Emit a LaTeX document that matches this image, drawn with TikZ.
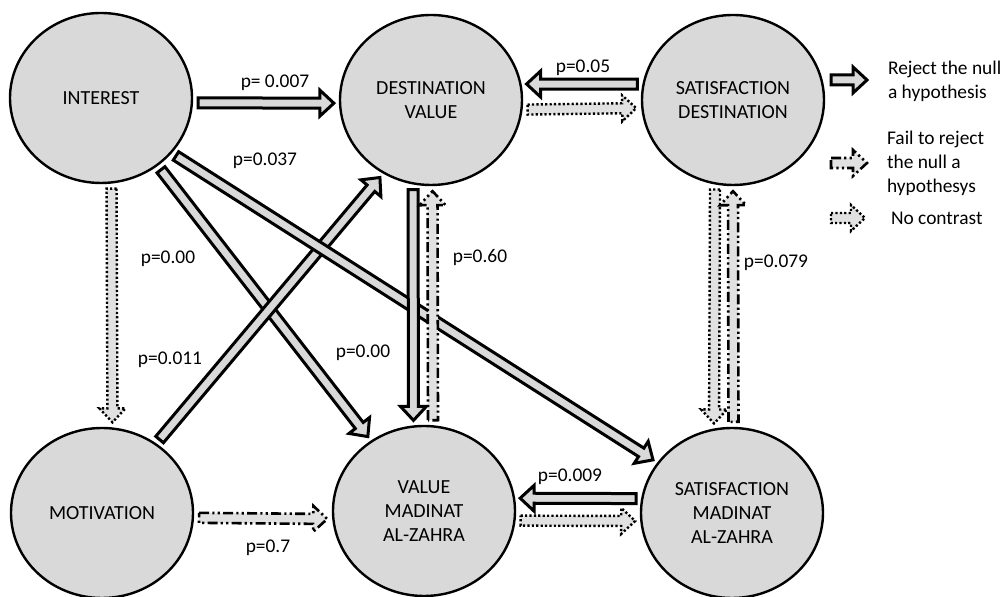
\documentclass[tikz,border=0pt]{standalone}
\usepackage{fontspec}
\setmainfont{Carlito}
\usepackage{xcolor}
\usetikzlibrary{shapes.geometric, calc}

\definecolor{boxgray}{HTML}{D9D9D9}

\tikzset{
	var/.style={ellipse, draw, line width=1.2pt, fill=boxgray, minimum width=91pt, minimum height=85pt, inner sep=0pt, align=center, font=\fontsize{10}{12}\selectfont},
	plab/.style={font=\fontsize{9.7}{12}\selectfont},
	reject/.style={draw, line width=1.5pt, fill=boxgray, line join=miter},
	fail/.style={draw, line width=1.3pt, fill=boxgray!80, dash pattern=on 5pt off 1.6pt on 1.1pt off 1.6pt on 1.1pt off 1.6pt},
	nocontrast/.style={draw, line width=1.2pt, fill=boxgray!80, dash pattern=on 1.1pt off 1.1pt}
}

% block arrow from #2 to #3
\newcommand{\blockarr}[3][reject]{%
	\coordinate (ba-s) at ($(#2)!2.5pt!(#3)$);
	\coordinate (ba-e) at ($(#3)!2.5pt!(#2)$);
	\coordinate (ba-t) at ($(ba-e)!7pt!(ba-s)$);
	\draw[#1] ($(ba-s)!2.5pt!90:(ba-e)$) -- ($(ba-t)!2.5pt!-90:(ba-s)$) -- ($(ba-t)!6.5pt!-90:(ba-s)$) -- (ba-e) -- ($(ba-t)!6.5pt!90:(ba-s)$) -- ($(ba-t)!2.5pt!90:(ba-s)$) -- ($(ba-s)!2.5pt!-90:(ba-e)$) -- cycle;
}

\begin{document}
\begin{tikzpicture}[x=0.5pt, y=-0.5pt]
	
	\useasboundingbox (0,0) rectangle (1003,597);
	
	\node [var] (int) at (101,98) {INTEREST};
	\node [var] (dv) at (431,100) {DESTINATION\\VALUE};
	\node [var] (sd) at (733,100) {SATISFACTION\\DESTINATION};
	\node [var] (mot) at (102,513) {MOTIVATION};
	\node [var] (vm) at (424,511) {VALUE\\MADINAT\\AL-ZAHRA};
	\node [var] (sm) at (732,513) {SATISFACTION\\MADINAT\\AL-ZAHRA};
	
	% diagonals
	\blockarr{int.-50}{vm.127}
	\blockarr{mot.52}{dv.-123}
	\blockarr{int.-38}{sm.146}
	
	% top and bottom rows
	\blockarr{int.-3}{dv.-178}
	\blockarr{sd.170}{dv.10}
	\blockarr[nocontrast]{dv.-6}{sd.185}
	\blockarr[fail]{mot.-3}{vm.185}
	\blockarr{sm.171}{vm.8}
	\blockarr[nocontrast]{vm.-6.5}{sm.185}
	
	% verticals
	\blockarr[nocontrast]{int.-83}{mot.83}
	\blockarr{dv.-102}{vm.97}
	\blockarr[fail]{vm.84}{dv.-89}
	\blockarr[nocontrast]{sd.-102.5}{sm.102}
	\blockarr[fail]{sm.89}{sd.-90}
	
	\node [plab] (p1) at (275,83) {p= 0.007};
	\node [plab] (p2) at (583,68) {p=0.05};
	\node [plab] (p3) at (265,161) {p=0.037};
	\node [plab] (p4) at (168,259) {p=0.00};
	\node [plab] (p5) at (170,360) {p=0.011};
	\node [plab] (p6) at (363,353) {p=0.00};
	\node [plab] (p7) at (480,258) {p=0.60};
	\node [plab] (p8) at (776,263) {p=0.079};
	\node [plab] (p9) at (268,548) {p=0.7};
	\node [plab] (p10) at (570,477) {p=0.009};
	
	% legend
	\coordinate (lg1a) at (826,80);
	\coordinate (lg1b) at (872,80);
	\coordinate (lg2a) at (826,163);
	\coordinate (lg2b) at (872,163);
	\coordinate (lg3a) at (826,218);
	\coordinate (lg3b) at (870,218);
	\blockarr{lg1a}{lg1b}
	\blockarr[fail]{lg2a}{lg2b}
	\blockarr[nocontrast]{lg3a}{lg3b}
	\node [plab, anchor=west, align=left] (lt1) at (881,81) {Reject the null\\a hypothesis};
	\node [plab, anchor=west, align=left] (lt2) at (880,163) {Fail to reject\\the null a\\hypothesys};
	\node [plab, anchor=west, align=left] (lt3) at (884,218) {No contrast};
	
\end{tikzpicture}
\end{document}
